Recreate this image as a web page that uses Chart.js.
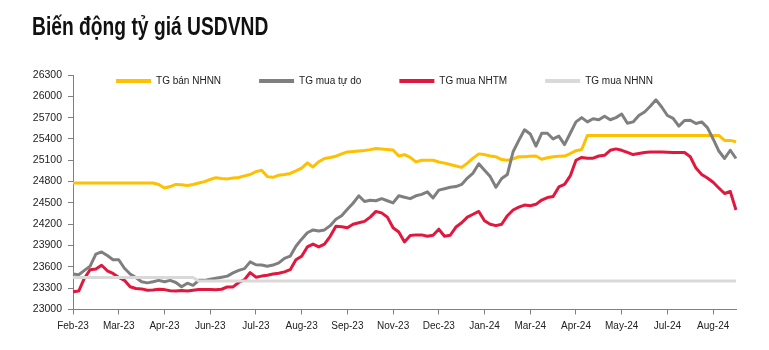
<!DOCTYPE html>
<html lang="vi">
<head>
<meta charset="utf-8">
<title>Biến động tỷ giá USDVND</title>
<script src="https://cdn.jsdelivr.net/npm/chart.js@4.4.1/dist/chart.umd.min.js"></script>
<style>
  html, body { margin: 0; padding: 0; background: #fff; }
  .wrap { position: relative; width: 769px; height: 350px; overflow: hidden; }
  .chart-title {
    position: absolute; left: 32px; top: 14px;
    font: bold 25px/25px 'Liberation Sans', Arial, sans-serif;
    color: #111; white-space: nowrap;
    transform: scaleX(0.77); transform-origin: left top;
  }
  canvas { position: absolute; left: 0; top: 0; }
</style>
</head>
<body>
<div class="wrap">
  <canvas id="chartTyGia" width="769" height="350"></canvas>
  <div class="chart-title">Biến động tỷ giá USDVND</div>
</div>
<script>
const START_DATE = '2023-02-01';
const STEP_DAYS = 5;
const LABEL_EVERY = 8;

const tickLabels = ['Feb-23', 'Mar-23', 'Apr-23', 'Jun-23', 'Jul-23', 'Aug-23', 'Sep-23', 'Nov-23',
  'Dec-23', 'Jan-24', 'Mar-24', 'Apr-24', 'May-24', 'Jul-24', 'Aug-24'];
const yTicks = { min: 23000, max: 26300, step: 300 };

const seriesNames = ['TG bán NHNN', 'TG mua tự do', 'TG mua NHTM', 'TG mua NHNN'];
const seriesColors = ['#FFC000', '#7F7F7F', '#E2173D', '#D9D9D9'];

// TG bán NHNN
const banNhnn = [
  24780, 24780, 24780, 24780, 24780, 24780, 24780, 24780, 24780, 24780, 24780, 24780, 24780, 24780, 24780,
  24760, 24710, 24730, 24760, 24755, 24745, 24760, 24780, 24800, 24830, 24855, 24845, 24838, 24850, 24857,
  24880, 24900, 24940, 24960, 24870, 24860, 24890, 24900, 24915, 24950, 24990, 25063, 25006, 25080, 25125,
  25140, 25157, 25190, 25218, 25225, 25232, 25238, 25250, 25265, 25258, 25252, 25245, 25160, 25180, 25140,
  25077, 25100, 25100, 25100, 25075, 25060, 25040, 25020, 25000, 25060, 25130, 25190, 25180, 25160, 25150,
  25110, 25100, 25120, 25150, 25150, 25155, 25160, 25115, 25135, 25150, 25155, 25160, 25195, 25235, 25251,
  25450, 25450, 25450, 25450, 25450, 25450, 25450, 25450, 25450, 25450, 25450, 25450,
  25450, 25450, 25450, 25450, 25450, 25450, 25450, 25450, 25450, 25450, 25450, 25450,
  25380, 25380, 25360
];

// TG mua tự do
const muaTuDo = [
  23500, 23490, 23550, 23610, 23780, 23810, 23760, 23700, 23700, 23580,
  23500, 23450, 23390, 23375, 23390, 23410, 23390, 23410, 23380, 23320,
  23370, 23340, 23410, 23410, 23425, 23440, 23455, 23470, 23515, 23550,
  23575, 23670, 23630, 23625, 23610, 23625, 23655, 23720, 23750, 23890,
  23990, 24080, 24120, 24106, 24120, 24180, 24270, 24320, 24410, 24495,
  24600, 24520, 24538, 24530, 24560, 24530, 24500, 24600, 24580, 24560,
  24600, 24620, 24655, 24570, 24680, 24700, 24720, 24730, 24760, 24850,
  24920, 25050, 24960, 24870, 24720, 24843, 24900, 25220, 25380, 25530,
  25470, 25300, 25480, 25480, 25400, 25440, 25320, 25480, 25640, 25700,
  25640, 25685, 25670, 25720, 25670, 25700, 25750, 25620, 25640, 25730,
  25780, 25860, 25950, 25850, 25730, 25690, 25580, 25660, 25664, 25617,
  25640, 25560, 25400, 25230, 25125, 25241, 25125
];

// TG mua NHTM
const muaNhtm = [
  23250, 23260, 23440, 23560, 23570, 23623, 23545, 23507, 23450, 23410,
  23320, 23295, 23290, 23271, 23275, 23285, 23280, 23265, 23262, 23268,
  23260, 23270, 23280, 23282, 23282, 23278, 23285, 23318, 23318, 23380,
  23420, 23520, 23455, 23470, 23483, 23500, 23510, 23530, 23560, 23700,
  23750, 23880, 23920, 23880, 23920, 24030, 24170, 24165, 24150, 24200,
  24220, 24240, 24300, 24380, 24360, 24300, 24150, 24090, 23950, 24040,
  24050, 24050, 24030, 24045, 24130, 24030, 24045, 24160, 24220, 24300,
  24340, 24380, 24250, 24200, 24180, 24200, 24320, 24400, 24440, 24470,
  24460, 24480, 24540, 24576, 24590, 24725, 24760, 24880, 25100, 25140,
  25130, 25130, 25160, 25170, 25240, 25260, 25240, 25210, 25180, 25195,
  25210, 25218, 25218, 25215, 25212, 25210, 25210, 25210, 25150, 24990,
  24900, 24850, 24790, 24710, 24632, 24660, 24400
];

// TG mua NHNN
const muaNhnn = [
  23450, 23450, 23450, 23450, 23450, 23450, 23450, 23450, 23450, 23450, 23450,
  23450, 23450, 23450, 23450, 23450, 23450, 23450, 23450, 23450, 23450, 23450,
  23400, 23400, 23400, 23400, 23400, 23400, 23400, 23400, 23400, 23400, 23400, 23400,
  23400, 23400, 23400, 23400, 23400, 23400, 23400, 23400, 23400, 23400, 23400, 23400,
  23400, 23400, 23400, 23400, 23400, 23400, 23400, 23400, 23400, 23400, 23400, 23400,
  23400, 23400, 23400, 23400, 23400, 23400, 23400, 23400, 23400, 23400, 23400, 23400,
  23400, 23400, 23400, 23400, 23400, 23400, 23400, 23400, 23400, 23400, 23400, 23400,
  23400, 23400, 23400, 23400, 23400, 23400, 23400, 23400, 23400, 23400, 23400, 23400,
  23400, 23400, 23400, 23400, 23400, 23400, 23400, 23400, 23400, 23400, 23400, 23400,
  23400, 23400, 23400, 23400, 23400, 23400, 23400, 23400, 23400, 23400, 23400
];

const LEGEND_CENTER_X = 384.5;
const LEGEND_TOP = 38;
const AXIS_COLOR = '#808080';
const TEXT_COLOR = '#222';

const categories = banNhnn.map((_, i) => {
  const date = new Date(`${START_DATE}T00:00:00Z`);
  date.setUTCDate(date.getUTCDate() + i * STEP_DAYS);
  return date.toISOString().slice(0, 10);
});

const datasets = [banNhnn, muaTuDo, muaNhtm, muaNhnn].map((data, i) => ({
  label: seriesNames[i],
  data,
  borderColor: seriesColors[i],
  backgroundColor: seriesColors[i],
  borderWidth: 3,
  borderJoinStyle: 'round',
  pointRadius: 0,
  tension: 0,
  fill: false,
  order: seriesNames.length - i
}));

// legend overlaps the top of the plot like the original, so it takes no layout room
const legendShift = {
  id: 'legendShift',
  afterLayout(chart) {
    const legend = chart.legend;
    if (!legend) return;
    const dx = LEGEND_CENTER_X - (legend.left + legend.right) / 2;
    legend.left += dx;
    legend.right += dx;
    legend.top = LEGEND_TOP;
    legend.bottom = LEGEND_TOP + 60;
    legend.height = 60;
  }
};

Chart.defaults.font.family = "'Liberation Sans', Arial, sans-serif";

new Chart(document.getElementById('chartTyGia'), {
  type: 'line',
  data: { labels: categories, datasets },
  plugins: [legendShift],
  options: {
    responsive: false,
    animation: false,
    devicePixelRatio: 1,
    layout: { padding: { left: 33, right: 33, top: 74, bottom: 17.5 } },
    plugins: {
      tooltip: { enabled: false },
      legend: {
        position: 'top',
        align: 'center',
        reverse: true,
        maxHeight: 1,
        labels: {
          boxWidth: 35,
          boxHeight: 4,
          padding: 38,
          color: TEXT_COLOR,
          font: { size: 10 },
          generateLabels(chart) {
            return Chart.defaults.plugins.legend.labels.generateLabels(chart)
              .map((item) => ({ ...item, fillStyle: item.strokeStyle, lineWidth: 0 }));
          }
        }
      }
    },
    scales: {
      x: {
        ticks: {
          autoSkip: false,
          maxRotation: 0,
          color: TEXT_COLOR,
          font: { size: 10 },
          padding: 6,
          callback: (value) => tickLabels[value / LABEL_EVERY] ?? ''
        },
        afterBuildTicks(axis) {
          axis.ticks = axis.ticks.filter((tick) => tick.value % LABEL_EVERY === 0);
        },
        afterFit(scale) { scale.height = 23; },
        grid: { drawOnChartArea: false, tickLength: 5, color: AXIS_COLOR },
        border: { color: AXIS_COLOR }
      },
      y: {
        min: yTicks.min,
        max: yTicks.max,
        ticks: {
          stepSize: yTicks.step,
          color: TEXT_COLOR,
          font: { size: 10.5 },
          padding: 6,
          callback: (value) => String(value)
        },
        afterFit(scale) { scale.width = 40; },
        grid: { drawOnChartArea: false, tickLength: 5, color: AXIS_COLOR },
        border: { color: AXIS_COLOR }
      }
    }
  }
});
</script>
</body>
</html>
